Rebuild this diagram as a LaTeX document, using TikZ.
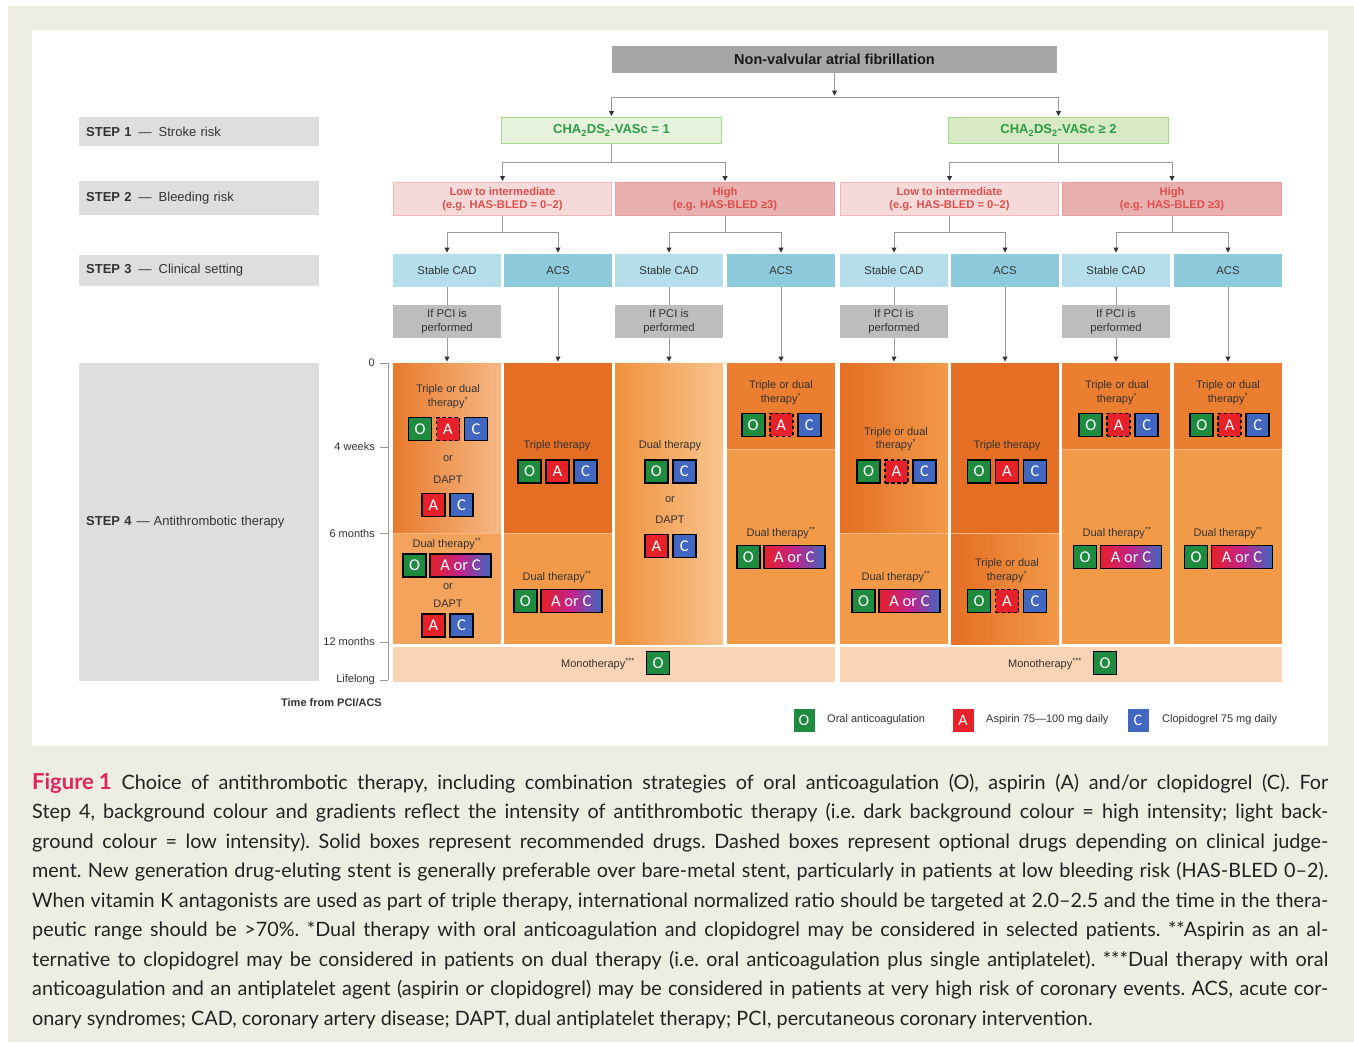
\documentclass[tikz,border=0pt]{standalone}
\usepackage{fontspec}
\setmainfont{Liberation Sans}
\newfontfamily\capfont{Lato}
\newfontfamily\boxfont{Carlito}
\usetikzlibrary{arrows.meta}

\definecolor{bgbeige}{HTML}{EEEDE2}
\definecolor{nvafgray}{HTML}{A6A6A6}
\definecolor{chaonefill}{HTML}{E6F2DB}
\definecolor{chatwofill}{HTML}{D7EAC4}
\definecolor{chaborder}{HTML}{A6D88C}
\definecolor{chatext}{HTML}{2E9B46}
\definecolor{lowfill}{HTML}{F6DADA}
\definecolor{lowborder}{HTML}{EFB7B7}
\definecolor{highfill}{HTML}{E9B0B0}
\definecolor{highborder}{HTML}{E49C9C}
\definecolor{bleedtext}{HTML}{DD4F4B}
\definecolor{stablefill}{HTML}{B4DEE9}
\definecolor{acsfill}{HTML}{8DCADB}
\definecolor{pcifill}{HTML}{BDBDBD}
\definecolor{stepgray}{HTML}{DEDEDE}
\definecolor{linegray}{HTML}{9A9A9A}
\definecolor{arrowtip}{HTML}{333333}
\definecolor{txt}{HTML}{333333}
\definecolor{odark}{HTML}{E46E24}
\definecolor{odarkb}{HTML}{EB7E30}
\definecolor{omid}{HTML}{F29A48}
\definecolor{omidb}{HTML}{F4A35C}
\definecolor{opeach}{HTML}{F7B985}
\definecolor{olight}{HTML}{F9C490}
\definecolor{oleft}{HTML}{E87A2C}
\definecolor{othree}{HTML}{F0913B}
\definecolor{mono}{HTML}{FAD4B4}
\definecolor{sepcol}{HTML}{F7B98A}
\definecolor{ogreen}{HTML}{1E8B3E}
\definecolor{ared}{HTML}{E62129}
\definecolor{cblue}{HTML}{4167C0}
\definecolor{amag}{HTML}{C1238A}
\definecolor{figred}{HTML}{E2245B}
\definecolor{captext}{HTML}{222222}

\newcommand\TripleB[4]{%
  \node[dO] (#1o) at ({#2-28},#3) {O};
  \node[#4] (#1a) at (#2,#3) {A};
  \node[dC] (#1c) at ({#2+28},#3) {C};}
\newcommand\DualB[3]{%
  \node[dO] (#1o) at ({#2-32.5},#3) {O};
  \node[dAC] (#1ac) at ({#2+13.5},#3) {A or C};}
\newcommand\PairAC[3]{%
  \node[dA] (#1a) at ({#2-14},#3) {A};
  \node[dC] (#1c) at ({#2+14},#3) {C};}
\newcommand\PairOC[3]{%
  \node[dO] (#1o) at ({#2-14},#3) {O};
  \node[dC] (#1c) at ({#2+14},#3) {C};}

\tikzset{
  ln/.style={draw=linegray, line width=1pt},
  arr/.style={ln, -{Triangle[length=5pt,width=5pt,color=arrowtip]}, shorten >=1.5pt},
  box/.style={inner sep=0, outer sep=0, align=center},
  stepbox/.style={fill=stepgray, anchor=west, minimum width=240, text width=226, inner xsep=7, inner ysep=0, align=left, font=\fontsize{13}{15}\selectfont, text=txt},
  chabox/.style={box, draw=chaborder, line width=1pt, minimum width=220, minimum height=26, font=\bfseries\fontsize{13}{15}\selectfont, text=chatext},
  bleedbox/.style={box, line width=0.8pt, minimum height=33, font=\bfseries\fontsize{11.2}{13.3}\selectfont, text=bleedtext},
  sbox/.style={box, minimum width=108, minimum height=33, font=\fontsize{11.3}{13.5}\selectfont, text=txt},
  panel/.style={inner sep=0, outer sep=0, minimum width=108, anchor=north west},
  sep/.style={draw=sepcol, line width=0.8pt},
  drug/.style={draw=black, line width=1.6pt, minimum width=23, minimum height=23, inner sep=0, text=white, font=\boxfont\fontsize{16.5}{16.5}\selectfont},
  dO/.style={drug, fill=ogreen},
  dA/.style={drug, fill=ared},
  dAd/.style={drug, fill=ared, dash pattern=on 3.5pt off 2.5pt},
  dC/.style={drug, fill=cblue},
  dAC/.style={drug, minimum width=61, left color=ared, right color=cblue, middle color=amag},
  lbl/.style={inner sep=0, align=center, text=txt, font=\fontsize{11}{13.5}\selectfont},
  axl/.style={draw=linegray, line width=0.8pt},
  leg/.style={inner sep=0, minimum width=21, minimum height=23, text=white, font=\boxfont\fontsize{16}{16}\selectfont},
  capline/.style={anchor=base west, inner sep=0, font=\capfont\fontsize{19.8}{22}\selectfont\frenchspacing, text=captext}
}

\begin{document}
\begin{tikzpicture}[x=1pt,y=-1pt]
\useasboundingbox (0,0) rectangle (1354,1042);
\fill[bgbeige] (8,6) rectangle (1354,1042);
\fill[white] (32,30) rectangle (1328,746);

% ---- step labels
\node[stepbox, minimum height=29] (st1) at (79,131.5) {\textbf{STEP 1}\hspace{7pt}—\hspace{7pt}Stroke risk};
\node[stepbox, minimum height=34] (st2) at (79,198) {\textbf{STEP 2}\hspace{7pt}—\hspace{7pt}Bleeding risk};
\node[stepbox, minimum height=31] (st3) at (79,270.5) {\textbf{STEP 3}\hspace{7pt}—\hspace{7pt}Clinical setting};
\node[stepbox, minimum height=318] (st4) at (79,522) {\textbf{STEP 4}\hspace{5pt}—\hspace{4pt}Antithrombotic therapy};

% ---- top
\node[box, fill=nvafgray, minimum width=445, minimum height=27, font=\bfseries\fontsize{14.5}{16}\selectfont, text=black!90] (nvaf) at (834.5,59.5) {Non-valvular atrial fibrillation};
\node[chabox, fill=chaonefill] (cha1) at (611.5,130.5) {CHA\textsubscript{2}DS\textsubscript{2}-VASc = 1};
\node[chabox, fill=chatwofill] (cha2) at (1058.5,130.5) {CHA\textsubscript{2}DS\textsubscript{2}-VASc ≥ 2};

\node[bleedbox, fill=lowfill, draw=lowborder, minimum width=218] (low1) at (502.5,199) {Low to intermediate\\(e.g. HAS-BLED = 0–2)};
\node[bleedbox, fill=highfill, draw=highborder, minimum width=219] (high1) at (725,199) {High\\(e.g. HAS-BLED ≥3)};
\node[bleedbox, fill=lowfill, draw=lowborder, minimum width=218] (low2) at (949.5,199) {Low to intermediate\\(e.g. HAS-BLED = 0–2)};
\node[bleedbox, fill=highfill, draw=highborder, minimum width=219] (high2) at (1172,199) {High\\(e.g. HAS-BLED ≥3)};

\node[sbox, fill=stablefill] (s1) at (447,270.5) {Stable CAD};
\node[sbox, fill=acsfill] (s2) at (558,270.5) {ACS};
\node[sbox, fill=stablefill] (s3) at (669,270.5) {Stable CAD};
\node[sbox, fill=acsfill] (s4) at (781,270.5) {ACS};
\node[sbox, fill=stablefill] (s5) at (894,270.5) {Stable CAD};
\node[sbox, fill=acsfill] (s6) at (1005,270.5) {ACS};
\node[sbox, fill=stablefill] (s7) at (1116,270.5) {Stable CAD};
\node[sbox, fill=acsfill] (s8) at (1228,270.5) {ACS};

\node[sbox, fill=pcifill] (pci1) at (447,321.5) {If PCI is\\performed};
\node[sbox, fill=pcifill] (pci3) at (669,321.5) {If PCI is\\performed};
\node[sbox, fill=pcifill] (pci5) at (894,321.5) {If PCI is\\performed};
\node[sbox, fill=pcifill] (pci7) at (1116,321.5) {If PCI is\\performed};

% ---- panels
\node[panel, minimum height=170, left color=oleft, right color=opeach] (p1a) at (393,363) {};
\node[panel, minimum height=111, fill=omidb] (p1b) at (393,533) {};
\node[panel, minimum height=170, fill=odark] (p2a) at (504,363) {};
\node[panel, minimum height=111, fill=omid] (p2b) at (504,533) {};
\node[panel, minimum height=281, left color=othree, right color=olight] (p3) at (615,363) {};
\node[panel, minimum height=86, fill=odarkb] (p4a) at (727,363) {};
\node[panel, minimum height=195, fill=omid] (p4b) at (727,449) {};
\node[panel, minimum height=170, left color=odark, right color=omid] (p5a) at (840,363) {};
\node[panel, minimum height=111, fill=omid] (p5b) at (840,533) {};
\node[panel, minimum height=170, fill=odark] (p6a) at (951,363) {};
\node[panel, minimum height=111, left color=odark, right color=omid] (p6b) at (951,533) {};
\node[panel, minimum height=86, fill=odarkb] (p7a) at (1062,363) {};
\node[panel, minimum height=195, fill=omid] (p7b) at (1062,449) {};
\node[panel, minimum height=86, fill=odarkb] (p8a) at (1174,363) {};
\node[panel, minimum height=195, fill=omid] (p8b) at (1174,449) {};
\foreach \p in {p1a,p2a,p4a,p5a,p6a,p7a,p8a}{\draw[sep] (\p.south west) -- (\p.south east);}
\node[panel, minimum width=442, minimum height=35, fill=mono] (m1) at (393,647) {};
\node[panel, minimum width=442, minimum height=35, fill=mono] (m2) at (840,647) {};

% ---- connectors
\draw[arr] (nvaf.south) -- ++(0,24) coordinate (b0);
\draw[arr] (b0) -| (cha1.north);
\draw[arr] (b0) -| (cha2.north);
\draw[ln] (cha1.south) -- ++(0,19) coordinate (b1);
\draw[arr] (b1) -| (low1.north);
\draw[arr] (b1) -| (high1.north);
\draw[ln] (cha2.south) -- ++(0,19) coordinate (b2);
\draw[arr] (b2) -| (low2.north);
\draw[arr] (b2) -| (high2.north);
\draw[ln] (low1.south) -- ++(0,17) coordinate (b3);
\draw[arr] (b3) -| (s1.north);
\draw[arr] (b3) -| (s2.north);
\draw[ln] (high1.south) -- ++(0,17) coordinate (b4);
\draw[arr] (b4) -| (s3.north);
\draw[arr] (b4) -| (s4.north);
\draw[ln] (low2.south) -- ++(0,17) coordinate (b5);
\draw[arr] (b5) -| (s5.north);
\draw[arr] (b5) -| (s6.north);
\draw[ln] (high2.south) -- ++(0,17) coordinate (b6);
\draw[arr] (b6) -| (s7.north);
\draw[arr] (b6) -| (s8.north);
\draw[ln] (s1.south) -- (pci1.north);
\draw[ln] (s3.south) -- (pci3.north);
\draw[ln] (s5.south) -- (pci5.north);
\draw[ln] (s7.south) -- (pci7.north);
\draw[arr] (pci1.south) -- (p1a.north);
\draw[arr] (s2.south) -- (p2a.north);
\draw[arr] (pci3.south) -- (p3.north);
\draw[arr] (s4.south) -- (p4a.north);
\draw[arr] (pci5.south) -- (p5a.north);
\draw[arr] (s6.south) -- (p6a.north);
\draw[arr] (pci7.south) -- (p7a.north);
\draw[arr] (s8.south) -- (p8a.north);

% ---- column 1
\node[lbl] (t1a) at (448,396.5) {Triple or dual\\therapy\textsuperscript{*}};
\TripleB{k1}{448}{429}{dAd}
\node[lbl] (t1b) at (448,459) {or};
\node[lbl] (t1c) at (448,480) {DAPT};
\PairAC{k1p}{447.5}{505}
\node[lbl] (t1d) at (447,543.5) {Dual therapy\textsuperscript{**}};
\DualB{k1d}{447}{565.5}
\node[lbl] (t1e) at (448,587) {or};
\node[lbl] (t1f) at (448,603.5) {DAPT};
\PairAC{k1q}{447.5}{625.5}
% ---- column 2
\node[lbl] (t2a) at (557,446) {Triple therapy};
\TripleB{k2}{557.5}{471.3}{dA}
\node[lbl] (t2b) at (557,577.3) {Dual therapy\textsuperscript{**}};
\DualB{k2d}{557.8}{601}
% ---- column 3
\node[lbl] (t3a) at (670,446) {Dual therapy};
\PairOC{k3}{670.3}{471.3}
\node[lbl] (t3b) at (670,500) {or};
\node[lbl] (t3c) at (670,520) {DAPT};
\PairAC{k3p}{670.3}{545.8}
% ---- column 4
\node[lbl] (t4a) at (781,392.5) {Triple or dual\\therapy\textsuperscript{*}};
\TripleB{k4}{781.2}{424.8}{dAd}
\node[lbl] (t4b) at (781,533.3) {Dual therapy\textsuperscript{**}};
\DualB{k4d}{780.8}{557}
% ---- monotherapy left
\node[lbl] (mt1) at (598,664.3) {Monotherapy\textsuperscript{***}};
\node[dO] (mo1) at (658,663) {O};
% ---- column 5
\node[lbl] (t5a) at (896,439) {Triple or dual\\therapy\textsuperscript{*}};
\TripleB{k5}{896.5}{471.3}{dAd}
\node[lbl] (t5b) at (896,577.3) {Dual therapy\textsuperscript{**}};
\DualB{k5d}{896}{601}
% ---- column 6
\node[lbl] (t6a) at (1007,446) {Triple therapy};
\TripleB{k6}{1007}{471.3}{dA}
\node[lbl] (t6b) at (1007,570.5) {Triple or dual\\therapy\textsuperscript{*}};
\TripleB{k6b}{1007}{601}{dAd}
% ---- column 7
\node[lbl] (t7a) at (1117,392.5) {Triple or dual\\therapy\textsuperscript{*}};
\TripleB{k7}{1118.7}{424.8}{dAd}
\node[lbl] (t7b) at (1117,533.3) {Dual therapy\textsuperscript{**}};
\DualB{k7d}{1117.5}{557}
% ---- column 8
\node[lbl] (t8a) at (1228,392.5) {Triple or dual\\therapy\textsuperscript{*}};
\TripleB{k8}{1229.7}{424.8}{dAd}
\node[lbl] (t8b) at (1228,533.3) {Dual therapy\textsuperscript{**}};
\DualB{k8d}{1228.5}{557}
% ---- monotherapy right
\node[lbl] (mt2) at (1045,664.3) {Monotherapy\textsuperscript{***}};
\node[dO] (mo2) at (1105,663) {O};

% ---- time axis
\draw[axl] (388,363) -- (388,680);
\foreach \yy in {363,447,533.5,642,680}{\draw[axl] (380,\yy) -- (388,\yy);}
\node[lbl, anchor=east] (ax0) at (375,363) {0};
\node[lbl, anchor=east] (ax1) at (375,447) {4 weeks};
\node[lbl, anchor=east] (ax2) at (375,533.5) {6 months};
\node[lbl, anchor=east] (ax3) at (375,642) {12 months};
\node[lbl, anchor=east] (ax4) at (375,680) {Lifelong};
\node[lbl, anchor=east, font=\bfseries\fontsize{11}{13}\selectfont] (axt) at (382,703) {Time from PCI/ACS};

% ---- legend
\node[leg, fill=ogreen] (lgO) at (804,720) {O};
\node[lbl, anchor=west] (lgOt) at (827,720) {Oral anticoagulation};
\node[leg, fill=ared] (lgA) at (963,720) {A};
\node[lbl, anchor=west] (lgAt) at (986,720) {Aspirin 75—100 mg daily};
\node[leg, fill=cblue] (lgC) at (1138,720) {C};
\node[lbl, anchor=west] (lgCt) at (1162,720) {Clopidogrel 75 mg daily};

% ---- caption
\node[capline] (cap1) at (32,789) {\makebox[1296pt][s]{\mbox{\color{figred}\bfseries\fontsize{22}{22}\selectfont Figure\hspace{5pt}1}\hspace{10pt}Choice of antithrombotic therapy, including combination strategies of oral anticoagulation (O), aspirin (A) and/or clopidogrel (C). For}};
\node[capline] (cap2) at (32,818.5) {\makebox[1296pt][s]{Step 4, background colour and gradients reflect the intensity of antithrombotic therapy (i.e. dark background colour = high intensity; light back-}};
\node[capline] (cap3) at (32,848) {\makebox[1296pt][s]{ground colour = low intensity). Solid boxes represent recommended drugs. Dashed boxes represent optional drugs depending on clinical judge-}};
\node[capline] (cap4) at (32,877.5) {\makebox[1296pt][s]{ment. New generation drug-eluting stent is generally preferable over bare-metal stent, particularly in patients at low bleeding risk (HAS-BLED 0–2).}};
\node[capline] (cap5) at (32,907) {\makebox[1296pt][s]{When vitamin K antagonists are used as part of triple therapy, international normalized ratio should be targeted at 2.0–2.5 and the time in the thera-}};
\node[capline] (cap6) at (32,936.5) {\makebox[1296pt][s]{peutic range should be >70\%. *Dual therapy with oral anticoagulation and clopidogrel may be considered in selected patients. **Aspirin as an al-}};
\node[capline] (cap7) at (32,966) {\makebox[1296pt][s]{ternative to clopidogrel may be considered in patients on dual therapy (i.e. oral anticoagulation plus single antiplatelet). ***Dual therapy with oral}};
\node[capline] (cap8) at (32,995.5) {\makebox[1296pt][s]{anticoagulation and an antiplatelet agent (aspirin or clopidogrel) may be considered in patients at very high risk of coronary events. ACS, acute cor-}};
\node[capline] (cap9) at (32,1025) {onary syndromes; CAD, coronary artery disease; DAPT, dual antiplatelet therapy; PCI, percutaneous coronary intervention.};
\end{tikzpicture}
\end{document}
